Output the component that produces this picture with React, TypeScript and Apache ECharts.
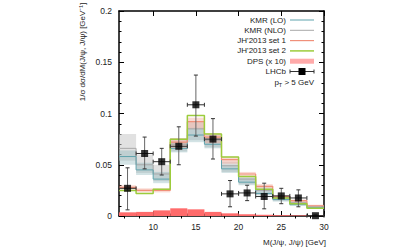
import React, { useEffect, useRef } from "react";
import * as echarts from "echarts";

// Bin edges (GeV)
const binEdges = [6, 8, 10, 12, 14, 16, 18, 20, 22, 24, 26, 28, 30];
const binCenters = [7, 9, 11, 13, 15, 17, 19, 21, 23, 25, 27, 29];

// KMR (LO) central + band
const kmrLo = [0.058, 0.045, 0.036, 0.066, 0.079, 0.07, 0.046, 0.033, 0.022, 0.016, 0.011, 0.008];
const kmrLoLow = [0.05, 0.04, 0.032, 0.062, 0.072, 0.066, 0.042, 0.03, 0.02, 0.014, 0.01, 0.007];
const kmrLoHigh = [0.064, 0.052, 0.043, 0.072, 0.086, 0.076, 0.05, 0.037, 0.025, 0.018, 0.013, 0.009];

// KMR (NLO) central + band
const kmrNlo = [0.066, 0.05, 0.041, 0.07, 0.085, 0.074, 0.049, 0.036, 0.025, 0.018, 0.013, 0.009];
const kmrNloLow = [0.054, 0.042, 0.034, 0.063, 0.074, 0.067, 0.043, 0.031, 0.021, 0.015, 0.011, 0.008];
const kmrNloHigh = [0.08, 0.06, 0.05, 0.076, 0.092, 0.079, 0.053, 0.039, 0.028, 0.02, 0.015, 0.01];

// JH'2013 set 1 central + band
const jhSet1 = [0.028, 0.025, 0.025, 0.072, 0.092, 0.077, 0.055, 0.041, 0.029, 0.019, 0.015, 0.01];
const jhSet1Low = [0.026, 0.023, 0.023, 0.066, 0.085, 0.071, 0.051, 0.038, 0.027, 0.017, 0.013, 0.009];
const jhSet1High = [0.03, 0.027, 0.027, 0.076, 0.096, 0.081, 0.058, 0.043, 0.031, 0.02, 0.016, 0.011];

// JH'2013 set 2
const jhSet2 = [0.025, 0.022, 0.026, 0.075, 0.098, 0.08, 0.0575, 0.0385, 0.026, 0.0176, 0.012, 0.0075];

// DPS (x 10)
const dps = [0.0036, 0.004, 0.0055, 0.0075, 0.0065, 0.004, 0.0026, 0.0017, 0.0012, 0.0008, 0.0006, 0.0004];

// LHCb data
const lhcb = [0.027, 0.061, 0.053, 0.068, 0.1085, 0.075, 0.0216, 0.0225, 0.019, 0.0196, 0.0176, 0.0003];
const lhcbLow = [0.006, 0.046, 0.04, 0.05, 0.078, 0.0556, 0.009, 0.015, 0.007, 0.012, 0.009, 0.0];
const lhcbHigh = [0.047, 0.077, 0.066, 0.087, 0.1375, 0.095, 0.0346, 0.03, 0.032, 0.027, 0.0255, 0.001];
const lhcbHalfWidth = 1;

// Axis ticks
const xLabels = [10, 15, 20, 25, 30];
const xMinorBottom = [8, 12, 14, 16, 18, 22, 24, 26, 28];
const xMinorTop = [6.667, 8.333, 11.667, 13.333, 16.667, 18.333, 21.667, 23.333, 26.667, 28.333];

const FONT = "Liberation Sans";

function stepData(values: number[]) {
  return binEdges.map((e, i) => [e, values[Math.min(i, values.length - 1)]]);
}

function bandSeries(low: number[], high: number[], color: string, z: number) {
  return {
    type: "custom",
    z,
    silent: true,
    encode: { x: [0, 1], y: [2, 3] },
    data: low.map((l, i) => [binEdges[i], binEdges[i + 1], l, high[i]]),
    renderItem: (params: any, api: any) => {
      const p1 = api.coord([api.value(0), api.value(3)]);
      const p2 = api.coord([api.value(1), api.value(2)]);
      return {
        type: "rect",
        shape: { x: p1[0], y: p1[1], width: p2[0] - p1[0], height: p2[1] - p1[1] },
        style: { fill: color },
      };
    },
  };
}

function stepLine(values: number[], color: string, width: number, z: number) {
  return {
    type: "line",
    step: "end",
    z,
    silent: true,
    showSymbol: false,
    symbol: "none",
    data: stepData(values),
    lineStyle: { color, width },
  };
}

export default function App() {
  const ref = useRef<HTMLDivElement>(null);
  useEffect(() => {
    if (!ref.current) return;
    const chart = echarts.init(ref.current, undefined, { renderer: "svg" });
    const zeros = dps.map(() => 0);
    const tickLabelStyle = { fontFamily: FONT, fontSize: 8.5, color: "#222" };
    const LF = 8;
    const option: any = {
      animation: false,
      backgroundColor: "#fff",
      grid: { left: 119, right: 90, top: 11, bottom: 33, show: false },
      xAxis: [
        {
          type: "value",
          position: "bottom",
          min: 6,
          max: 30,
          axisLine: { show: true, onZero: false, lineStyle: { color: "#000", width: 1.5 } },
          axisTick: { show: true, inside: true, length: 5, customValues: xLabels, lineStyle: { color: "#000" } },
          axisLabel: { ...tickLabelStyle, margin: 6, customValues: xLabels },
          splitLine: { show: false },
        },
        {
          type: "value",
          position: "top",
          min: 6,
          max: 30,
          axisLine: { show: true, onZero: false, lineStyle: { color: "#000", width: 1.5 } },
          axisTick: { show: true, inside: true, length: 5, customValues: xLabels, lineStyle: { color: "#000" } },
          axisLabel: { show: false },
          splitLine: { show: false },
        },
        {
          type: "value",
          position: "bottom",
          min: 6,
          max: 30,
          axisLine: { show: false },
          axisTick: { show: true, inside: true, length: 2.5, customValues: xMinorBottom, lineStyle: { color: "#000" } },
          axisLabel: { show: false },
          splitLine: { show: false },
        },
        {
          type: "value",
          position: "top",
          min: 6,
          max: 30,
          axisLine: { show: false },
          axisTick: { show: true, inside: true, length: 2.5, customValues: xMinorTop, lineStyle: { color: "#000" } },
          axisLabel: { show: false },
          splitLine: { show: false },
        },
      ],
      yAxis: [
        {
          type: "value",
          position: "left",
          min: 0,
          max: 0.2,
          interval: 0.05,
          axisLine: { show: true, onZero: false, lineStyle: { color: "#000", width: 1.5 } },
          axisTick: { show: true, inside: true, length: 5, lineStyle: { color: "#000" } },
          minorTick: { show: true, splitNumber: 5, length: 2.5, lineStyle: { color: "#000" } },
          axisLabel: { ...tickLabelStyle, margin: 7 },
          splitLine: { show: false },
          minorSplitLine: { show: false },
        },
        {
          type: "value",
          position: "right",
          min: 0,
          max: 0.2,
          interval: 0.05,
          axisLine: { show: true, onZero: false, lineStyle: { color: "#000", width: 1.5 } },
          axisTick: { show: true, inside: true, length: 5, lineStyle: { color: "#000" } },
          minorTick: { show: true, splitNumber: 5, length: 2.5, lineStyle: { color: "#000" } },
          axisLabel: { show: false },
          splitLine: { show: false },
          minorSplitLine: { show: false },
        },
      ],
      series: [
        bandSeries(kmrNloLow, kmrNloHigh, "rgba(200,200,200,0.55)", 1),
        bandSeries(kmrLoLow, kmrLoHigh, "rgba(130,175,180,0.35)", 2),
        bandSeries(jhSet1Low, jhSet1High, "rgba(240,150,130,0.35)", 3),
        stepLine(kmrNlo, "#a8a8a8", 1, 4),
        stepLine(kmrLo, "#5fa3ad", 1, 5),
        stepLine(jhSet1, "#f0907a", 1.2, 6),
        stepLine(jhSet2, "#9ccc3c", 1.5, 7),
        bandSeries(zeros, dps, "#ff6b6b", 8),
        {
          type: "custom",
          z: 9,
          silent: true,
          encode: { x: 0, y: 1 },
          data: binCenters.map((c, i) => [c, lhcb[i], lhcbLow[i], lhcbHigh[i]]),
          renderItem: (params: any, api: any) => {
            const x = api.value(0);
            const y = api.value(1);
            const c = api.coord([x, y]);
            const lo = api.coord([x, api.value(2)]);
            const hi = api.coord([x, api.value(3)]);
            const l = api.coord([x - lhcbHalfWidth, y]);
            const r = api.coord([x + lhcbHalfWidth, y]);
            const st = { stroke: "#333", lineWidth: 1 };
            const cap = 2;
            return {
              type: "group",
              children: [
                { type: "line", shape: { x1: c[0], y1: lo[1], x2: c[0], y2: hi[1] }, style: { stroke: "#666", lineWidth: 1 } },
                { type: "line", shape: { x1: c[0] - cap, y1: lo[1], x2: c[0] + cap, y2: lo[1] }, style: st },
                { type: "line", shape: { x1: c[0] - cap, y1: hi[1], x2: c[0] + cap, y2: hi[1] }, style: st },
                { type: "line", shape: { x1: l[0], y1: c[1], x2: r[0], y2: c[1] }, style: st },
                { type: "line", shape: { x1: l[0], y1: c[1] - cap, x2: l[0], y2: c[1] + cap }, style: st },
                { type: "line", shape: { x1: r[0], y1: c[1] - cap, x2: r[0], y2: c[1] + cap }, style: st },
              ],
            };
          },
        },
        {
          type: "scatter",
          z: 10,
          silent: true,
          symbol: "rect",
          symbolSize: 7,
          itemStyle: { color: "#000" },
          data: binCenters.map((c, i) => [c, lhcb[i]]),
        },
      ],
      graphic: [
        {
          type: "text",
          x: 82,
          y: 52,
          rotation: Math.PI / 2,
          style: {
            text: "1/σ dσ/dM(J/ψ, J/ψ) [GeV⁻¹]",
            fontFamily: FONT,
            fontSize: LF,
            fill: "#222",
            align: "center",
            verticalAlign: "middle",
          },
        },
        {
          type: "text",
          x: 326,
          y: 242,
          style: {
            text: "M(J/ψ, J/ψ) [GeV]",
            fontFamily: FONT,
            fontSize: LF,
            fill: "#222",
            align: "right",
            verticalAlign: "middle",
          },
        },
        // Legend
        ...[
          { t: "KMR (LO)", y: 20 },
          { t: "KMR (NLO)", y: 30.3 },
          { t: "JH'2013 set 1", y: 40.6 },
          { t: "JH'2013 set 2", y: 50.9 },
          { t: "DPS (x 10)", y: 61.2 },
          { t: "LHCb", y: 71.5 },
        ].map((d) => ({
          type: "text",
          x: 286,
          y: d.y,
          style: { text: d.t, fontFamily: FONT, fontSize: LF, fill: "#222", align: "right", verticalAlign: "middle" },
        })),
        { type: "line", shape: { x1: 290, y1: 20, x2: 314, y2: 20 }, style: { stroke: "#5fa3ad", lineWidth: 1 } },
        { type: "line", shape: { x1: 290, y1: 30.3, x2: 314, y2: 30.3 }, style: { stroke: "#a8a8a8", lineWidth: 1 } },
        { type: "line", shape: { x1: 290, y1: 40.6, x2: 314, y2: 40.6 }, style: { stroke: "#f0907a", lineWidth: 1.2 } },
        { type: "line", shape: { x1: 290, y1: 50.9, x2: 314, y2: 50.9 }, style: { stroke: "#9ccc3c", lineWidth: 1.5 } },
        { type: "rect", shape: { x: 290, y: 58.7, width: 24, height: 5 }, style: { fill: "#ffaaaa" } },
        { type: "line", shape: { x1: 290, y1: 71.5, x2: 314, y2: 71.5 }, style: { stroke: "#333", lineWidth: 1 } },
        { type: "line", shape: { x1: 290, y1: 69.5, x2: 290, y2: 73.5 }, style: { stroke: "#333", lineWidth: 1 } },
        { type: "line", shape: { x1: 314, y1: 69.5, x2: 314, y2: 73.5 }, style: { stroke: "#333", lineWidth: 1 } },
        { type: "rect", shape: { x: 298.5, y: 68, width: 7, height: 7 }, style: { fill: "#000" } },
        {
          type: "text",
          x: 314,
          y: 82.5,
          style: {
            text: "{a|p}{s|T}{a| > 5 GeV}",
            align: "right",
            verticalAlign: "middle",
            rich: {
              a: { fontFamily: FONT, fontSize: LF, fill: "#222", color: "#222" },
              s: { fontFamily: FONT, fontSize: 5.5, fill: "#222", color: "#222", padding: [5, 0, 0, 0] },
            },
          },
        },
      ],
    };
    chart.setOption(option);
    return () => chart.dispose();
  }, []);
  return (
    <div
      ref={ref}
      style={{ position: "fixed", left: 0, top: 0, width: 414, height: 249, background: "#fff" }}
    />
  );
}
